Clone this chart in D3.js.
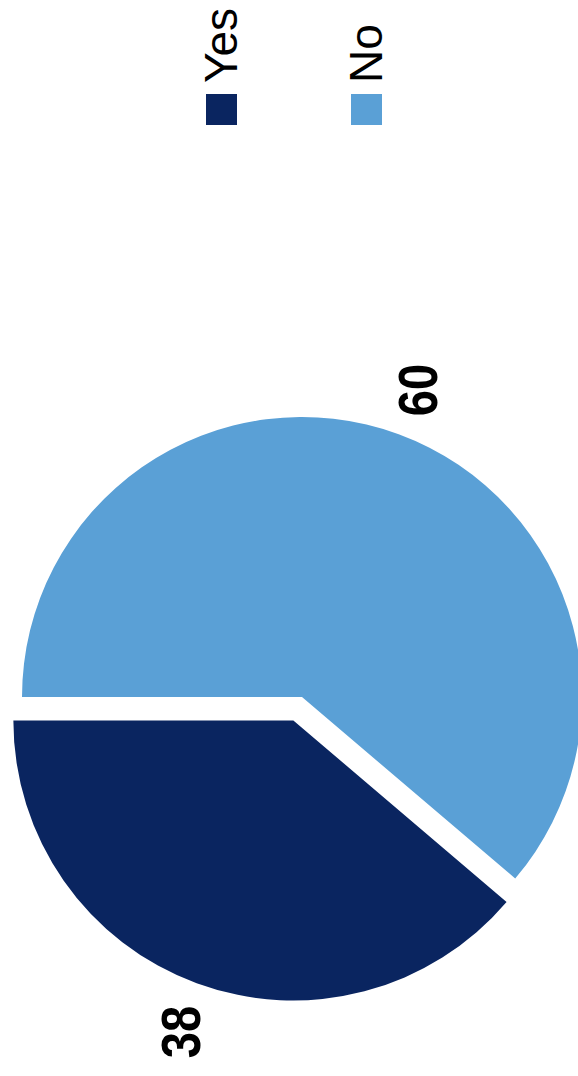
<!DOCTYPE html>
<html>
<head>
<meta charset="utf-8">
<script src="https://cdn.jsdelivr.net/npm/d3@7"></script>
<style>
  body { margin: 0; background: #fff; }
  text { font-family: "Liberation Sans", Arial, sans-serif; }
</style>
</head>
<body>
<div id="chart"></div>
<script>
// Data
const categories = ['No', 'Yes']
const values = [60, 38]
const legendOrder = ['Yes', 'No']
const colors = ['#5aa0d6', '#0a2560']

function draw() {
  // Dimensions
  let dimensions = {
    width: 578,
    height: 1076,
    cx: 302,
    cy: 697,
    radius: 280,
    explode: 25,
  }

  const svg = d3.select('#chart')
    .append('svg')
    .attr('width', dimensions.width)
    .attr('height', dimensions.height)

  const dataset = categories.map((c, i) => ({ name: c, value: values[i] }))

  // Scales
  const colorScale = d3.scaleOrdinal()
    .domain(categories)
    .range(colors)

  const pie = d3.pie()
    .value(d => d.value)
    .sort(null)
    .startAngle(-Math.PI / 2)
    .endAngle(3 * Math.PI / 2)

  const slices = pie(dataset)

  const arc = d3.arc()
    .innerRadius(0)
    .outerRadius(dimensions.radius)

  // offset for exploded slice
  const shift = d => {
    if (d.data.name !== 'Yes') return [0, 0]
    const a = (d.startAngle + d.endAngle) / 2
    return [Math.sin(a) * dimensions.explode, -Math.cos(a) * dimensions.explode]
  }

  const ctr = svg.append('g')
    .attr('transform', `translate(${dimensions.cx}, ${dimensions.cy})`)

  ctr.selectAll('path')
    .data(slices)
    .join('path')
    .attr('d', arc)
    .attr('transform', d => `translate(${shift(d)})`)
    .attr('fill', d => colorScale(d.data.name))

  // value labels, rotated like the rest of the page
  const labelPos = { No: [437, 390], Yes: [200, 1032] }
  svg.append('g')
    .selectAll('text')
    .data(slices)
    .join('text')
    .attr('transform', d => `translate(${labelPos[d.data.name]}) rotate(-90) scale(0.86, 1)`)
    .attr('text-anchor', 'middle')
    .style('font-size', '55px')
    .style('font-weight', 'bold')
    .attr('fill', '#000')
    .text(d => d.data.value)

  // legend
  const legendX = { Yes: 237, No: 382 }
  const legend = svg.append('g')
    .selectAll('g')
    .data(legendOrder)
    .join('g')
    .attr('transform', d => `translate(${legendX[d]}, 0)`)

  legend.append('rect')
    .attr('x', -31)
    .attr('y', 94)
    .attr('width', 31)
    .attr('height', 31)
    .attr('fill', d => colorScale(d))

  legend.append('text')
    .attr('transform', 'translate(0, 83) rotate(-90)')
    .style('font-size', '46px')
    .attr('fill', '#000')
    .text(d => d)
}

draw()
</script>
</body>
</html>
